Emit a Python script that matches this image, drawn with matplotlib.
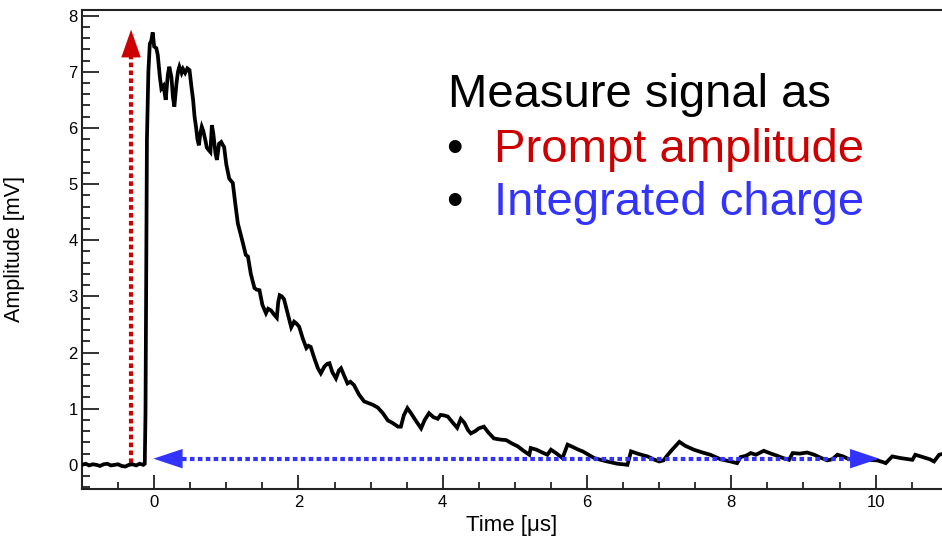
import matplotlib
matplotlib.use("Agg")
import matplotlib.pyplot as plt
from matplotlib.ticker import MultipleLocator

plt.rcParams['font.family'] = ['Liberation Sans', 'DejaVu Sans']

# ---- data ----
time_us = [-1.00, -0.95, -0.90, -0.85, -0.80, -0.75, -0.70, -0.65, -0.60, -0.55,
           -0.50, -0.45, -0.40, -0.35, -0.30, -0.25, -0.20, -0.15,
           -0.13, -0.12, -0.11, -0.10, -0.08, -0.06, -0.04, -0.02, 0.00, 0.03, 0.05,
           0.08, 0.10, 0.13, 0.16, 0.19, 0.21, 0.24, 0.26, 0.28, 0.31, 0.33, 0.35,
           0.38, 0.40, 0.43, 0.46, 0.49, 0.52, 0.54, 0.56, 0.58, 0.60, 0.62, 0.64,
           0.66, 0.68, 0.71, 0.73, 0.76, 0.78, 0.80, 0.82, 0.85, 0.87, 0.90, 0.93,
           0.95, 0.97, 1.00, 1.04, 1.07, 1.09, 1.12, 1.16, 1.19, 1.23, 1.27, 1.30,
           1.34, 1.39, 1.42, 1.46, 1.50, 1.55, 1.58, 1.62, 1.66, 1.70, 1.72, 1.74,
           1.77, 1.80, 1.84, 1.88, 1.90, 1.94, 1.97, 2.01, 2.06, 2.11, 2.14, 2.17,
           2.22, 2.27, 2.31, 2.36, 2.40, 2.43, 2.47, 2.52, 2.56, 2.59, 2.63, 2.68,
           2.72, 2.77, 2.84, 2.91, 2.97, 3.03, 3.10, 3.17, 3.24, 3.30, 3.38, 3.42,
           3.46, 3.51, 3.56, 3.62, 3.70, 3.75, 3.81, 3.87, 3.93, 3.97, 4.02, 4.07,
           4.14, 4.20, 4.25, 4.30, 4.35, 4.39, 4.45, 4.50, 4.57, 4.63, 4.71, 4.80,
           4.88, 4.96, 5.04, 5.12, 5.20, 5.22, 5.30, 5.38, 5.45, 5.50, 5.58, 5.66,
           5.73, 5.80, 5.88, 5.94, 6.02, 6.10, 6.19, 6.28, 6.35, 6.42, 6.50, 6.56,
           6.61, 6.70, 6.78, 6.84, 6.92, 7.00, 7.06, 7.12, 7.18, 7.28, 7.36, 7.48,
           7.60, 7.71, 7.85, 7.99, 8.08, 8.13, 8.20, 8.27, 8.34, 8.45, 8.55, 8.64,
           8.72, 8.80, 8.85, 8.95, 9.05, 9.15, 9.25, 9.33, 9.40, 9.47, 9.55, 9.63,
           9.75, 9.88, 10.02, 10.10, 10.14, 10.23, 10.35, 10.45, 10.51, 10.55, 10.65,
           10.75, 10.81, 10.88, 10.95]
amplitude_mV = [0.00, 0.02, -0.01, 0.01, 0.00, -0.02, 0.01, 0.02, -0.01, 0.00,
                0.01, -0.02, -0.03, 0.00, 0.01, -0.01, 0.02, 0.00,
                0.02, 0.90, 3.50, 5.80, 7.00, 7.50, 7.55, 7.70, 7.45, 7.42, 7.30,
                6.90, 6.70, 6.75, 6.50, 6.95, 7.09, 6.90, 6.55, 6.38, 6.80, 7.00, 7.09,
                6.98, 7.05, 6.98, 7.06, 7.03, 6.70, 6.50, 6.20, 6.02, 5.80, 5.69, 5.90,
                6.02, 5.95, 5.78, 5.65, 5.60, 5.57, 6.05, 5.90, 5.55, 5.43, 5.72, 5.75,
                5.70, 5.66, 5.35, 5.10, 5.05, 5.02, 4.70, 4.30, 4.15, 3.95, 3.74, 3.71,
                3.40, 3.15, 3.12, 3.11, 2.85, 2.70, 2.78, 2.75, 2.68, 2.62, 2.90, 3.02,
                3.00, 2.95, 2.75, 2.55, 2.45, 2.55, 2.52, 2.46, 2.25, 2.08, 2.12, 2.10,
                1.90, 1.72, 1.63, 1.75, 1.80, 1.81, 1.65, 1.54, 1.68, 1.72, 1.60, 1.45,
                1.48, 1.42, 1.25, 1.13, 1.10, 1.07, 1.02, 0.92, 0.79, 0.75, 0.68, 0.68,
                0.88, 1.01, 0.92, 0.80, 0.65, 0.80, 0.92, 0.85, 0.82, 0.89, 0.88, 0.86,
                0.75, 0.66, 0.82, 0.75, 0.62, 0.56, 0.60, 0.65, 0.68, 0.58, 0.47, 0.45,
                0.44, 0.38, 0.33, 0.25, 0.18, 0.30, 0.27, 0.22, 0.18, 0.27, 0.20, 0.12,
                0.36, 0.32, 0.27, 0.24, 0.18, 0.12, 0.09, 0.06, 0.04, 0.02, 0.01, 0.00,
                0.24, 0.20, 0.17, 0.15, 0.10, 0.06, 0.08, 0.18, 0.27, 0.41, 0.34, 0.27,
                0.22, 0.18, 0.10, 0.06, 0.03, 0.14, 0.16, 0.21, 0.18, 0.25, 0.20, 0.16,
                0.12, 0.09, 0.21, 0.20, 0.22, 0.18, 0.12, 0.08, 0.10, 0.18, 0.15, 0.10,
                0.10, 0.09, 0.08, 0.05, 0.03, 0.15, 0.12, 0.10, 0.09, 0.18, 0.14,
                0.10, 0.06, 0.18, 0.20]

# annotation arrows (data coordinates)
amp_arrow_x = -0.32
amp_arrow_y0, amp_arrow_y1 = 0.03, 7.75
int_arrow_y = 0.11
int_arrow_x0, int_arrow_x1 = -0.01, 10.05

title_line = "Measure signal as"
item_lines = ["Prompt amplitude", "Integrated charge"]
item_colors = ["#cc0000", "#3333ff"]

x_label = "Time [μs]"
y_label = "Amplitude [mV]"

# ---- figure ----
fig = plt.figure(figsize=(9.42, 5.39), dpi=100)
ax = fig.add_axes([82 / 942, 50 / 539, 1 - 82 / 942, 479 / 539])

ax.plot(time_us, amplitude_mV, color='black', lw=2.7, solid_joinstyle='miter', zorder=3)

ax.set_xlim(-1.0, 10.92)
ax.set_ylim(-0.43, 8.10)

dot_style = (0, (1.1, 0.8))

# red vertical arrow (prompt amplitude)
ax.plot([amp_arrow_x, amp_arrow_x], [amp_arrow_y0, amp_arrow_y1 - 0.48],
        color=item_colors[0], lw=3.0, ls=dot_style, dash_capstyle='butt', zorder=2)
ax.annotate('', xy=(amp_arrow_x, amp_arrow_y1), xytext=(amp_arrow_x, amp_arrow_y1 - 0.6),
            arrowprops=dict(arrowstyle='-|>,head_length=20,head_width=7',
                            mutation_scale=1, color=item_colors[0], lw=0,
                            shrinkA=0, shrinkB=0), zorder=4)

# blue horizontal double arrow (integrated charge)
ax.plot([int_arrow_x0 + 0.39, int_arrow_x1 - 0.38], [int_arrow_y, int_arrow_y],
        color=item_colors[1], lw=3.0, ls=dot_style, dash_capstyle='butt', zorder=4)
for tip, base in [(int_arrow_x0, int_arrow_x0 + 0.5), (int_arrow_x1, int_arrow_x1 - 0.5)]:
    ax.annotate('', xy=(tip, int_arrow_y), xytext=(base, int_arrow_y),
                arrowprops=dict(arrowstyle='-|>,head_length=21,head_width=7',
                                mutation_scale=1, color=item_colors[1], lw=0,
                                shrinkA=0, shrinkB=0), zorder=5)

# axes styling (ROOT-like)
ax.spines['right'].set_visible(False)
for s in ['left', 'top', 'bottom']:
    ax.spines[s].set_linewidth(1.5)
    ax.spines[s].set_color('#222222')

ax.xaxis.set_major_locator(MultipleLocator(2))
ax.xaxis.set_minor_locator(MultipleLocator(0.5))
ax.yaxis.set_major_locator(MultipleLocator(1))
ax.yaxis.set_minor_locator(MultipleLocator(0.2))
ax.tick_params(axis='both', which='both', direction='in', top=False, right=False,
               width=1.3, color='#222222', labelsize=12)
ax.tick_params(axis='x', which='major', length=10, pad=4)
ax.tick_params(axis='x', which='minor', length=5.3)
ax.tick_params(axis='y', which='major', length=12, pad=3)
ax.tick_params(axis='y', which='minor', length=6)

ax.set_xlabel(x_label, fontsize=16)
ax.set_ylabel(y_label, fontsize=15.5)
ax.xaxis.set_label_coords(0.5, -0.055)
ax.yaxis.set_label_coords(-0.066, 0.5)

# text block
fs = 34
fig.text(448 / 942, 1 - 106.7 / 539, title_line, fontsize=fs, color='black', va='baseline')
for i, (txt, col) in enumerate(zip(item_lines, item_colors)):
    yb = 1 - (161.7 + 53.5 * i) / 539
    fig.text(446 / 942, yb, "•", fontsize=fs, color='black', va='baseline')
    fig.text(494 / 942, yb, txt, fontsize=fs, color=col, va='baseline')

fig.savefig("out.png", dpi=100)
